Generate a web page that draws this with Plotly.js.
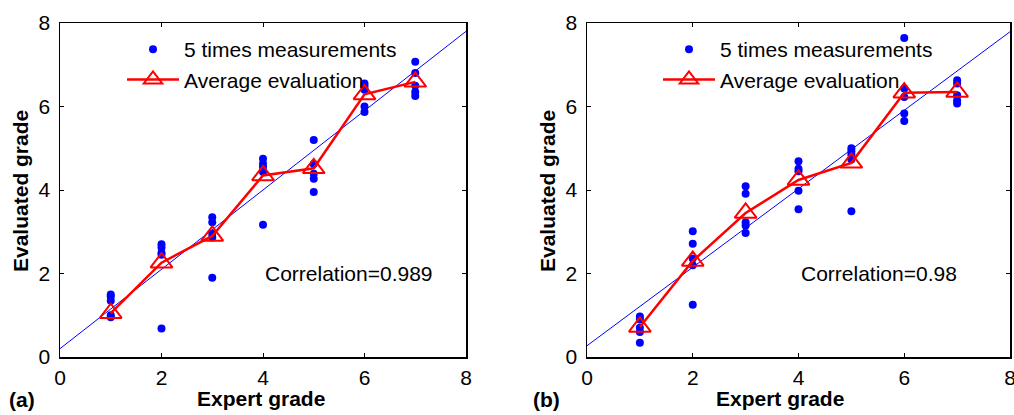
<!DOCTYPE html>
<html><head><meta charset="utf-8">
<script src="https://cdn.plot.ly/plotly-3.0.1.min.js"></script>
<style>html,body{margin:0;padding:0;background:#fff}#chart{width:1014px;height:415px}</style>
</head><body><div id="chart"></div>
<script>
// Expert grades (x categories)
const expertGrades = [1, 2, 3, 4, 5, 6, 7];

// Panel (a): five measurements per expert grade
const measurementsA = [
  [1.50, 1.45, 1.35, 1.00, 0.95],
  [2.70, 2.62, 2.50, 2.45, 0.68],
  [3.35, 3.23, 2.95, 2.86, 1.90],
  [4.75, 4.63, 4.55, 4.43, 3.17],
  [5.20, 4.62, 4.39, 4.27, 3.95],
  [6.55, 6.48, 6.40, 6.00, 5.87],
  [7.07, 6.80, 6.50, 6.35, 6.25]
];
const averageA = [1.05, 2.26, 2.90, 4.35, 4.52, 6.29, 6.59];
const fitXA = [0, 8];
const fitYA = [0.20, 7.80];
const correlationA = "Correlation=0.989";

// Panel (b)
const measurementsB = [
  [0.97, 0.90, 0.70, 0.60, 0.34],
  [3.01, 2.71, 2.36, 2.20, 1.25],
  [4.09, 3.91, 3.23, 3.15, 2.97],
  [4.69, 4.51, 4.45, 3.98, 3.54],
  [5.00, 4.93, 4.85, 4.73, 3.49],
  [7.64, 6.43, 6.23, 5.83, 5.65],
  [6.63, 6.55, 6.27, 6.15, 6.07]
];
const averageB = [0.72, 2.30, 3.45, 4.24, 4.65, 6.33, 6.35];
const fitXB = [0, 8];
const fitYB = [0.27, 7.79];
const correlationB = "Correlation=0.98";

const axisTicks = [0, 2, 4, 6, 8];
const seriesNames = ["5 times measurements", "Average evaluation"];
const xTitle = "Expert grade";
const yTitle = "Evaluated grade";
const panelLabels = ["(a)", "(b)"];

function flatten(meas) {
  const xs = [], ys = [];
  meas.forEach((arr, i) => arr.forEach(v => { xs.push(expertGrades[i]); ys.push(v); }));
  return {xs, ys};
}

const FONT = "Liberation Sans, Arial, sans-serif";
const BLUE = "#0000ff", RED = "#ff0000";

function panelTraces(meas, avg, fx, fy, xa, ya, leg) {
  const f = flatten(meas);
  return [
    {type: "scatter", mode: "lines", x: fx, y: fy, xaxis: xa, yaxis: ya,
     line: {color: BLUE, width: 1}, showlegend: false, hoverinfo: "skip"},
    {type: "scatter", mode: "markers", x: f.xs, y: f.ys, xaxis: xa, yaxis: ya,
     name: seriesNames[0], legend: leg,
     marker: {color: BLUE, size: 8, symbol: "circle"}},
    {type: "scatter", mode: "lines+markers", x: expertGrades, y: avg, xaxis: xa, yaxis: ya,
     name: seriesNames[1], legend: leg,
     line: {color: RED, width: 2.5},
     marker: {symbol: "triangle-up-open", size: 19, color: RED, line: {color: RED, width: 2}}}
  ];
}

const data = [
  ...panelTraces(measurementsA, averageA, fitXA, fitYA, "x", "y", "legend"),
  ...panelTraces(measurementsB, averageB, fitXB, fitYB, "x2", "y2", "legend2")
];

function xAxis(dom, anchor) {
  return {domain: dom, anchor: anchor, range: [0, 8], tickvals: axisTicks,
    ticks: "inside", ticklen: 4, tickcolor: "#000", showline: true, linecolor: "#000",
    linewidth: 1.5, mirror: "allticks", showgrid: false, zeroline: false,
    tickfont: {family: FONT, size: 21, color: "#000"}, automargin: false, ticklabelstandoff: 1,
    ticklabeloverflow: "allow", fixedrange: true};
}
function yAxis(dom, anchor) {
  return {domain: dom, anchor: anchor, range: [0, 8], tickvals: axisTicks,
    ticks: "inside", ticklen: 4, tickcolor: "#000", showline: true, linecolor: "#000",
    linewidth: 1.5, mirror: "allticks", showgrid: false, zeroline: false,
    tickfont: {family: FONT, size: 21, color: "#000"}, automargin: false, ticklabelstandoff: 4,
    ticklabeloverflow: "allow", fixedrange: true};
}

const W = 1014, H = 415;
const yDom = [1 - 357 / H, 1 - 23 / H];
const legendBase = {font: {family: FONT, size: 21, color: "#000"}, bgcolor: "rgba(0,0,0,0)",
  borderwidth: 0, xanchor: "left", yanchor: "top", itemwidth: 52, tracegroupgap: 0};

function ann(text, x, y, opts) {
  return Object.assign({text: text, x: x, y: y, xref: "paper", yref: "paper", showarrow: false,
    font: {family: FONT, size: 21, color: "#000"}}, opts || {});
}

const layout = {
  width: W, height: H,
  margin: {l: 0, r: 0, t: 0, b: 0},
  paper_bgcolor: "#fff", plot_bgcolor: "#fff",
  xaxis: xAxis([60 / W, 466 / W], "y"),
  yaxis: yAxis(yDom, "x"),
  xaxis2: xAxis([587 / W, 1010 / W], "y2"),
  yaxis2: yAxis(yDom, "x2"),
  legend: Object.assign({}, legendBase, {x: 122 / W, y: 1 - 29 / H}),
  legend2: Object.assign({}, legendBase, {x: 658 / W, y: 1 - 29 / H}),
  annotations: [
    {text: correlationA, x: 4, y: 2, xref: "x", yref: "y", xanchor: "left", yanchor: "middle",
     showarrow: false, font: {family: FONT, size: 21, color: "#000"}},
    {text: correlationB, x: 4, y: 2, xref: "x2", yref: "y2", xanchor: "left", yanchor: "middle",
     showarrow: false, font: {family: FONT, size: 21, color: "#000"}},
    ann("<b>" + xTitle + "</b>", 261 / W, 1 - 398 / H, {xanchor: "center", yanchor: "middle"}),
    ann("<b>" + xTitle + "</b>", 780 / W, 1 - 398 / H, {xanchor: "center", yanchor: "middle"}),
    ann("<b>" + yTitle + "</b>", 20 / W, 1 - 191 / H, {xanchor: "center", yanchor: "middle", textangle: -90}),
    ann("<b>" + yTitle + "</b>", 547 / W, 1 - 191 / H, {xanchor: "center", yanchor: "middle", textangle: -90}),
    ann("<b>" + panelLabels[0] + "</b>", 22 / W, 1 - 399 / H, {xanchor: "center", yanchor: "middle"}),
    ann("<b>" + panelLabels[1] + "</b>", 546 / W, 1 - 399 / H, {xanchor: "center", yanchor: "middle"})
  ],
  showlegend: true
};

Plotly.newPlot("chart", data, layout, {displayModeBar: false, staticPlot: true});
</script>
</body></html>
